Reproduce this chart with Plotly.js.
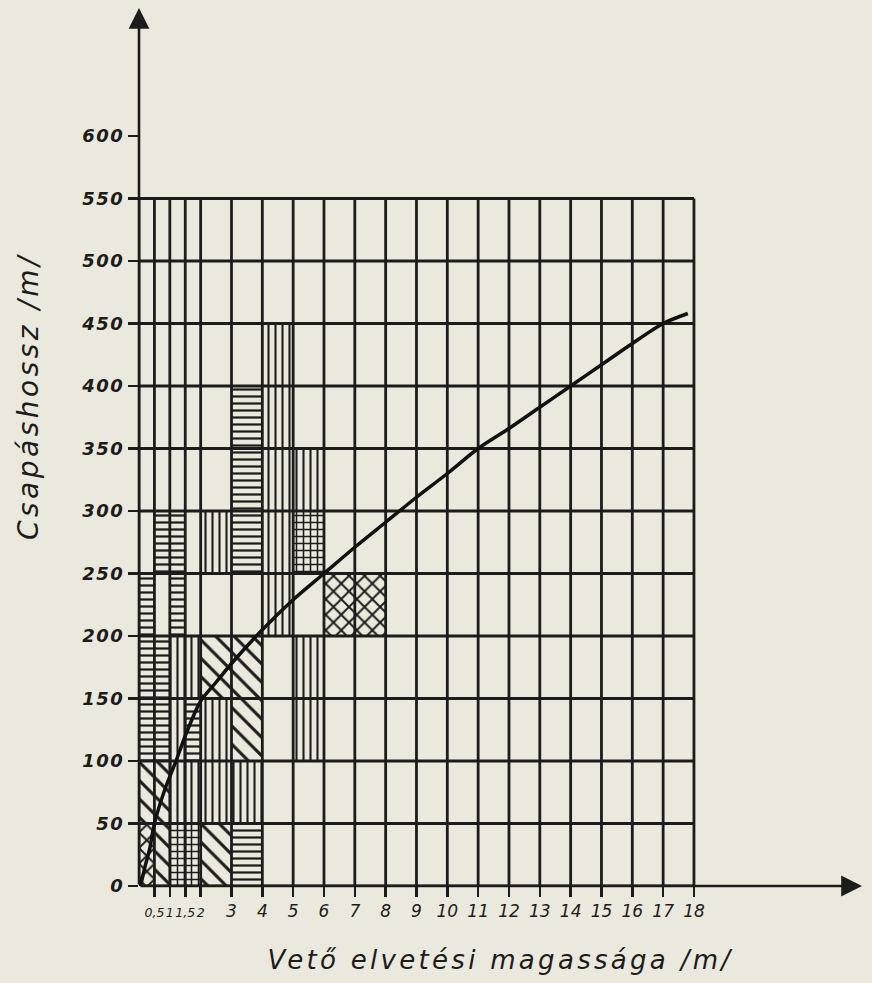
<!DOCTYPE html>
<html><head><meta charset="utf-8">
<script src="https://cdn.plot.ly/plotly-3.0.1.min.js"></script>
<style>
html,body{margin:0;padding:0;background:#ebe9dd;}
#chart{width:872px;height:983px;}
.xtitle{letter-spacing:3.3px;}
.annotation-text{letter-spacing:3.5px;}
.ytick text{letter-spacing:1.5px;}
</style></head><body><div id="chart"></div>
<script>
// Tick labels
const xTickVals = [0.5,1,1.5,2,3,4,5,6,7,8,9,10,11,12,13,14,15,16,17,18];
const xTickText = ['0,5','1','1,5','2','3','4','5','6','7','8','9','10','11','12','13','14','15','16','17','18'];
const yTickVals = [0,50,100,150,200,250,300,350,400,450,500,550,600];
// Grid
const gridX = [0,0.5,1,1.5,2,3,4,5,6,7,8,9,10,11,12,13,14,15,16,17,18];
const gridY = [0,50,100,150,200,250,300,350,400,450,500,550];
// Curve (Vető elvetési magassága -> Csapáshossz)
const curveX = [0.05,0.2,0.35,0.5,0.85,1.2,1.5,2,2.5,3,4,5,6,7,8,9,10,11,12,13,14,15,16,17,17.8];
const curveY = [0,16,30,50,78,100,120,148,163,178,205,229,250,271,291,311,330,350,366,383,400,417,434,450,458];
// Hatched cells
const cellX0 = [0.5,1,0,1,0,0.5,0,0.5,1.5,3,3,3,3, 2,4,4,4,4,4,5,1,1.5,1,2,5,5,1,2,3, 2,3,3,0,0.5,0.5,2, 5,1,1.5, 6,7,0];
const cellX1 = [1,1.5,0.5,1.5,0.5,1,0.5,1,2,4,4,4,4, 3,5,5,5,5,5,6,1.5,2,1.5,3,6,6,2,3,4, 3,4,4,0.5,1,1,3, 6,1.5,2, 7,8,0.5];
const cellY0 = [250,250,200,200,150,150,100,100,100,250,300,350,0, 250,200,250,300,350,400,300,150,150,100,100,150,100,50,50,50, 150,150,100,50,50,0,0, 250,0,0, 200,200,0];
const cellY1 = cellY0.map(v => v + 50);
const cellHatch = ['-','-','-','-','-','-','-','-','-','-','-','-','-',
  '|','|','|','|','|','|','|','|','|','|','|','|','|','|','|','|',
  '\\','\\','\\','\\','\\','\\','\\',
  '+','+','+',
  'x','x','x'];

const ink = '#1c1c1c';
const hatchSize = {'-':7,'|':7,'\\':13,'+':7,'x':11};
const hatchSolid = {'-':0.32,'|':0.3,'\\':0.24,'+':0.4,'x':0.32};

// crowded labels below 2 are set smaller so they do not collide
const xTickShown = xTickText.map((t,i)=> xTickVals[i] <= 2 ? '<span style="font-size:12.5px">'+t+'</span>' : t);

const bars = {
  type:'bar',
  x: cellX0.map((v,i)=>(v+cellX1[i])/2),
  width: cellX0.map((v,i)=>cellX1[i]-v),
  base: cellY0,
  y: cellY1.map((v,i)=>v-cellY0[i]),
  marker:{color:'rgba(0,0,0,0)', line:{width:0},
    pattern:{shape:cellHatch, size:cellHatch.map(h=>hatchSize[h]), solidity:cellHatch.map(h=>hatchSolid[h]),
      fgcolor:ink, fgopacity:1, fillmode:'overlay'}},
  hoverinfo:'skip', showlegend:false
};
const curve = {
  type:'scatter', mode:'lines', x:curveX, y:curveY,
  line:{color:'#111', width:3.5, shape:'spline', smoothing:0.8},
  hoverinfo:'skip', showlegend:false
};

const shapes = [];
gridX.forEach(g=>shapes.push({type:'line', xref:'x', yref:'y', x0:g, x1:g, y0:0, y1:gridY[gridY.length-1], line:{color:ink, width:2.8}, layer:'below'}));
gridY.forEach(g=>shapes.push({type:'line', xref:'x', yref:'y', x0:0, x1:gridX[gridX.length-1], y0:g, y1:g, line:{color:ink, width:2.8}, layer:'below'}));

const layout = {
  width:872, height:983,
  margin:{l:139, r:10, t:8, b:97},
  paper_bgcolor:'#ebe9dd', plot_bgcolor:'#ebe9dd',
  barmode:'overlay',
  xaxis:{range:[0,23.45], showgrid:false, zeroline:false, showline:false,
    tickmode:'array', tickvals:xTickVals, ticktext:xTickShown, tickangle:0,
    ticks:'outside', ticklen:10, tickwidth:2.6, tickcolor:ink,
    tickfont:{family:'DejaVu Sans', size:17, style:'italic', color:ink},
    title:{text:'Vető elvetési magassága /m/', font:{family:'DejaVu Sans', size:26, style:'italic', color:ink}, standoff:30},
    fixedrange:true},
  yaxis:{range:[0,702.4], showgrid:false, zeroline:false, showline:false,
    tickmode:'array', tickvals:yTickVals, ticks:'outside', ticklen:10, tickwidth:2.2, tickcolor:ink,
    tickfont:{family:'DejaVu Sans', size:18, style:'italic', weight:'bold', color:ink}, fixedrange:true},
  shapes:shapes,
  annotations:[
    {x:23.45, y:0, xref:'x', yref:'y', ax:0, ay:0, axref:'x', ayref:'y', text:'', showarrow:true,
     arrowhead:2, arrowsize:1.6, arrowwidth:2.6, arrowcolor:ink},
    {x:0, y:702.4, xref:'x', yref:'y', ax:0, ay:0, axref:'x', ayref:'y', text:'', showarrow:true,
     arrowhead:2, arrowsize:1.6, arrowwidth:2.6, arrowcolor:ink},
    {xref:'paper', yref:'paper', x:-0.152, y:0.557, xanchor:'center', yanchor:'middle', textangle:-90,
     text:'Csapáshossz /m/', showarrow:false, font:{family:'DejaVu Sans', size:28, style:'italic', color:ink}}
  ]
};
Plotly.newPlot('chart',[bars,curve],layout,{staticPlot:true, displayModeBar:false});
</script></body></html>
